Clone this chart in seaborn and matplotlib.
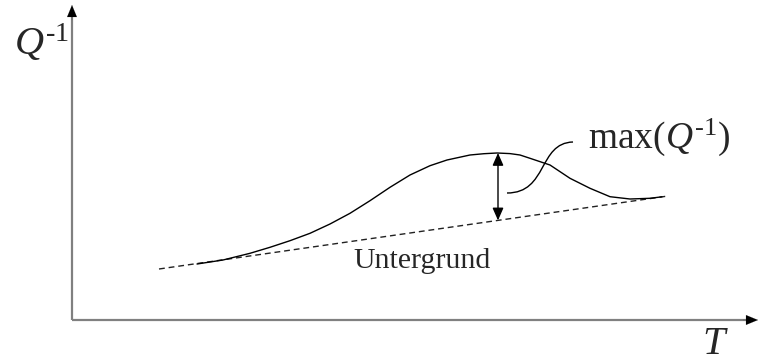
import matplotlib
matplotlib.use("Agg")
import matplotlib.pyplot as plt
import seaborn as sns
import pandas as pd
from matplotlib.path import Path
from matplotlib.patches import PathPatch

# ---- data (arbitrary units) ----
curve_T = [12.5, 15.1, 17.8, 19.8, 21.8, 23.8, 25.8, 27.8, 29.8, 31.8, 33.8,
           35.8, 37.5, 39.8, 41.2, 42.5, 43.8, 44.8, 45.8, 47.8, 49.8, 51.8,
           53.8, 55.8, 57.8, 59.0]
curve_Q = [5.6, 6.0, 6.67, 7.27, 7.93, 8.67, 9.6, 10.67, 11.93, 13.27, 14.5,
           15.43, 16.0, 16.5, 16.63, 16.7, 16.64, 16.5, 16.17, 15.5, 14.17, 13.17,
           12.33, 12.1, 12.17, 12.32]
base_T = [8.7, 59.6]
base_Q = [5.1, 12.4]
peak_T = 42.6
peak_Q = 16.7
peak_base_Q = 9.96
leader_T = [43.5, 47.6, 46.6, 50.1]
leader_Q = [12.7, 12.7, 17.7, 17.8]
axis_T_max = 68.6
axis_Q_max = 31.5

label_Q = "$Q^{\\mathrm{\u20101}}$"
label_T = "$T$"
label_max = "$\\mathrm{max}(Q^{\\mathrm{\u20101}})$"
label_bg = "Untergrund"

sns.set_style("white")
plt.rcParams['font.family'] = ['Liberation Serif', 'DejaVu Serif']
plt.rcParams['mathtext.fontset'] = 'custom'
plt.rcParams['mathtext.rm'] = 'Liberation Serif'
plt.rcParams['mathtext.it'] = 'Liberation Serif:italic'

fig = plt.figure(figsize=(7.59, 3.62), dpi=100)
ax = fig.add_axes([0, 0, 1, 1])
ax.set_xlim(-7.2, 68.7)
ax.set_ylim(-4.2, 32.0)
ax.axis('off')

curve_df = pd.DataFrame({'T': curve_T, 'Q': curve_Q})
base_df = pd.DataFrame({'T': base_T, 'Q': base_Q})

# axes lines
ax.plot([0, axis_T_max - 0.8], [0, 0], color='#808080', lw=1.6, solid_capstyle='butt')
ax.plot([0, 0], [0, axis_Q_max - 1.0], color='#808080', lw=1.6, solid_capstyle='butt')
head = dict(arrowstyle='-|>,head_length=0.85,head_width=0.35', color='black', lw=0.1,
            shrinkA=0, shrinkB=0, mutation_scale=10)
ax.annotate('', xy=(axis_T_max, 0), xytext=(axis_T_max - 1.5, 0), arrowprops=head)
ax.annotate('', xy=(0, axis_Q_max), xytext=(0, axis_Q_max - 1.5), arrowprops=head)

# background and curve
sns.lineplot(data=base_df, x='T', y='Q', ax=ax, color='#222222', lw=1.0,
             linestyle=(0, (4.2, 2.8)), sort=False)
sns.lineplot(data=curve_df, x='T', y='Q', ax=ax, color='black', lw=1.0, sort=False)

# double arrow
ax.annotate('', xy=(peak_T, peak_Q), xytext=(peak_T, peak_base_Q),
            arrowprops=dict(arrowstyle='<|-|>,head_length=0.75,head_width=0.33',
                            color='black', lw=1.0, shrinkA=0, shrinkB=0,
                            mutation_scale=10))

# leader line
verts = list(zip(leader_T, leader_Q))
path = Path(verts, [Path.MOVETO, Path.CURVE4, Path.CURVE4, Path.CURVE4])
ax.add_patch(PathPatch(path, fill=False, color='black', lw=1.0))

# texts
ax.text(-5.85, 26.5, label_Q, fontsize=29, ha='left', va='baseline')
ax.text(63.0, -3.35, label_T, fontsize=29, ha='left', va='baseline')
ax.text(51.6, 17.2, label_max, fontsize=27, ha='left', va='baseline')
ax.text(28.1, 5.2, label_bg, fontsize=21.5, ha='left', va='baseline')

fig.savefig('out.png', dpi=100)
